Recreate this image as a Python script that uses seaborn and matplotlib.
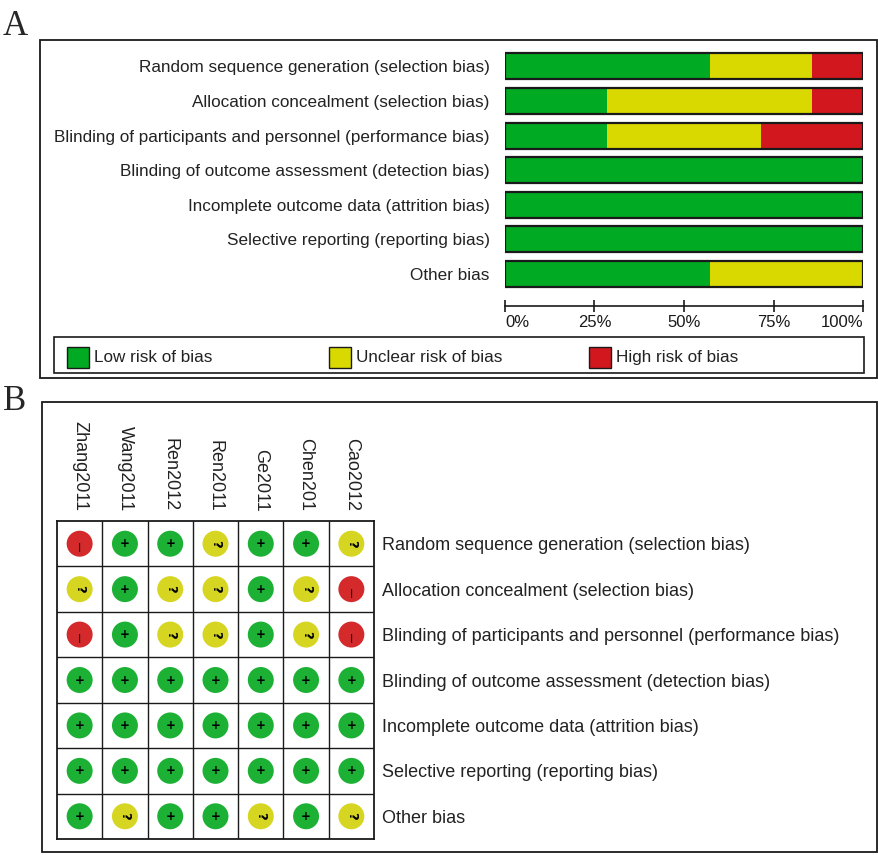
import numpy as np
import pandas as pd
import matplotlib
matplotlib.use("Agg")
import matplotlib.pyplot as plt
from matplotlib.patches import Rectangle
import seaborn as sns

# risk of bias domains and included studies
domains = [
    "Random sequence generation (selection bias)",
    "Allocation concealment (selection bias)",
    "Blinding of participants and personnel (performance bias)",
    "Blinding of outcome assessment (detection bias)",
    "Incomplete outcome data (attrition bias)",
    "Selective reporting (reporting bias)",
    "Other bias",
]
studies = ["Zhang2011", "Wang2011", "Ren2012", "Ren2011", "Ge2011", "Chen201", "Cao2012"]

# judgements per domain (row) and study (column): L = low, U = unclear, H = high
judgements = [
    ["H", "L", "L", "U", "L", "L", "U"],
    ["U", "L", "U", "U", "L", "U", "H"],
    ["H", "L", "U", "U", "L", "U", "H"],
    ["L", "L", "L", "L", "L", "L", "L"],
    ["L", "L", "L", "L", "L", "L", "L"],
    ["L", "L", "L", "L", "L", "L", "L"],
    ["L", "U", "L", "L", "U", "L", "U"],
]

legend_labels = ["Low risk of bias", "Unclear risk of bias", "High risk of bias"]
colors = {"L": "#00AA22", "U": "#D9D900", "H": "#D3171F"}
dot_colors = {"L": "#1CB135", "U": "#D6D622", "H": "#D42A2C"}

W, H = 879, 855
def fx(px):
    return px / W
def fy(py):
    return 1 - py / H

sns.set_style("white")
plt.rcParams["font.family"] = ["Liberation Sans", "DejaVu Sans"]

fig = plt.figure(figsize=(W / 100, H / 100), dpi=100)

# ---------- panel A: summary bars ----------
summary = pd.DataFrame({
    "domain": domains,
    "low": [row.count("L") / len(row) * 100 for row in judgements],
    "unclear": [row.count("U") / len(row) * 100 for row in judgements],
    "high": [row.count("H") / len(row) * 100 for row in judgements],
})
summary["low_unclear"] = summary["low"] + summary["unclear"]
summary["total"] = summary["low_unclear"] + summary["high"]

axA = fig.add_axes([fx(505), fy(291.3), fx(863) - fx(505), 242.3 / H])
bw = 0.75
sns.barplot(data=summary, x="total", y="domain", color=colors["H"], width=bw,
            linewidth=0, saturation=1, ax=axA)
sns.barplot(data=summary, x="low_unclear", y="domain", color=colors["U"], width=bw,
            linewidth=0, saturation=1, ax=axA)
sns.barplot(data=summary, x="low", y="domain", color=colors["L"], width=bw,
            linewidth=0, saturation=1, ax=axA)
sns.barplot(data=summary, x="total", y="domain", color="#1a1a1a", fill=False, width=bw,
            linewidth=1.6, ax=axA)

axA.set_xlim(0, 100)
axA.set_xlabel("")
axA.set_ylabel("")
for s in ["top", "right", "left"]:
    axA.spines[s].set_visible(False)
axA.spines["bottom"].set_position(("outward", 10.6))
axA.spines["bottom"].set_linewidth(1.2)
axA.spines["bottom"].set_color("#1a1a1a")
axA.set_xticks([0, 25, 50, 75, 100])
axA.set_xticklabels(["0%", "25%", "50%", "75%", "100%"])
axA.tick_params(axis="x", direction="inout", length=8.6, width=1.2, pad=2,
                labelsize=12, colors="#1a1a1a", bottom=True)
tl = axA.get_xticklabels()
tl[0].set_ha("left")
tl[-1].set_ha("right")
axA.tick_params(axis="y", length=0, pad=11, labelsize=12.3, labelcolor="#222222")

# frame and legend of panel A
fig.add_artist(Rectangle((fx(40), fy(378)), fx(877) - fx(40), (378 - 40) / H,
                         transform=fig.transFigure, fill=False, lw=1.3, ec="#1a1a1a"))
fig.add_artist(Rectangle((fx(54), fy(373)), fx(864) - fx(54), (373 - 337) / H,
                         transform=fig.transFigure, fill=False, lw=1.2, ec="#1a1a1a"))
for lab, key, x0 in zip(legend_labels, ["L", "U", "H"], [67, 329, 589]):
    fig.add_artist(Rectangle((fx(x0), fy(368)), 22 / W, 21 / H, transform=fig.transFigure,
                             fc=colors[key], ec="#1a1a1a", lw=1.0))
    fig.text(fx(x0 + 27), fy(357.5), lab, fontsize=12.3, va="center", ha="left",
             color="#222222")

fig.text(fx(3), fy(35), "A", family=["Liberation Serif", "DejaVu Serif"], fontsize=25,
         va="baseline", ha="left")

# ---------- panel B: traffic light grid ----------
grid = pd.DataFrame(
    [(st, dom, judgements[i][j]) for i, dom in enumerate(domains) for j, st in enumerate(studies)],
    columns=["study", "domain", "judgement"],
)

axB = fig.add_axes([fx(57), fy(839), fx(374) - fx(57), (839 - 521) / H])
sns.scatterplot(data=grid, x="study", y="domain", hue="judgement", palette=dot_colors,
                s=350, linewidth=0, legend=False, ax=axB)
axB.set_xlim(-0.5, len(studies) - 0.5)
axB.set_ylim(len(domains) - 0.5, -0.5)
for v in np.arange(0.5, len(studies) - 0.5):
    axB.axvline(v, color="#1a1a1a", lw=1.0)
for h in np.arange(0.5, len(domains) - 0.5):
    axB.axhline(h, color="#1a1a1a", lw=1.0)
for s in axB.spines.values():
    s.set_visible(True)
    s.set_color("#1a1a1a")
    s.set_linewidth(1.3)

for i, dom in enumerate(domains):
    for j, st in enumerate(studies):
        k = judgements[i][j]
        if k == "L":
            axB.text(j, i, "+", ha="center", va="center", fontsize=8.5, fontweight="bold",
                     color="black", family="DejaVu Sans")
        elif k == "U":
            axB.text(j, i, "?", ha="center", va="center", fontsize=9.5, fontweight="bold",
                     rotation=270, color="black", family="DejaVu Sans")
        else:
            axB.text(j, i + 0.09, "|", ha="center", va="center", fontsize=6.5,
                     fontweight="heavy", color="black", family="DejaVu Sans")

axB.set_xlabel("")
axB.set_ylabel("")
axB.xaxis.tick_top()
axB.yaxis.tick_right()
axB.tick_params(axis="x", length=0, pad=7, labelsize=13, labelrotation=270,
                labelcolor="#222222")
axB.tick_params(axis="y", length=0, pad=6, labelsize=13, labelcolor="#222222")
for t in axB.get_yticklabels():
    t.set_ha("left")

fig.add_artist(Rectangle((fx(42), fy(852)), fx(877) - fx(42), (852 - 402) / H,
                         transform=fig.transFigure, fill=False, lw=1.3, ec="#1a1a1a"))
fig.text(fx(3), fy(410), "B", family=["Liberation Serif", "DejaVu Serif"], fontsize=25,
         va="baseline", ha="left")

fig.savefig("out.png", dpi=100, facecolor="white")
